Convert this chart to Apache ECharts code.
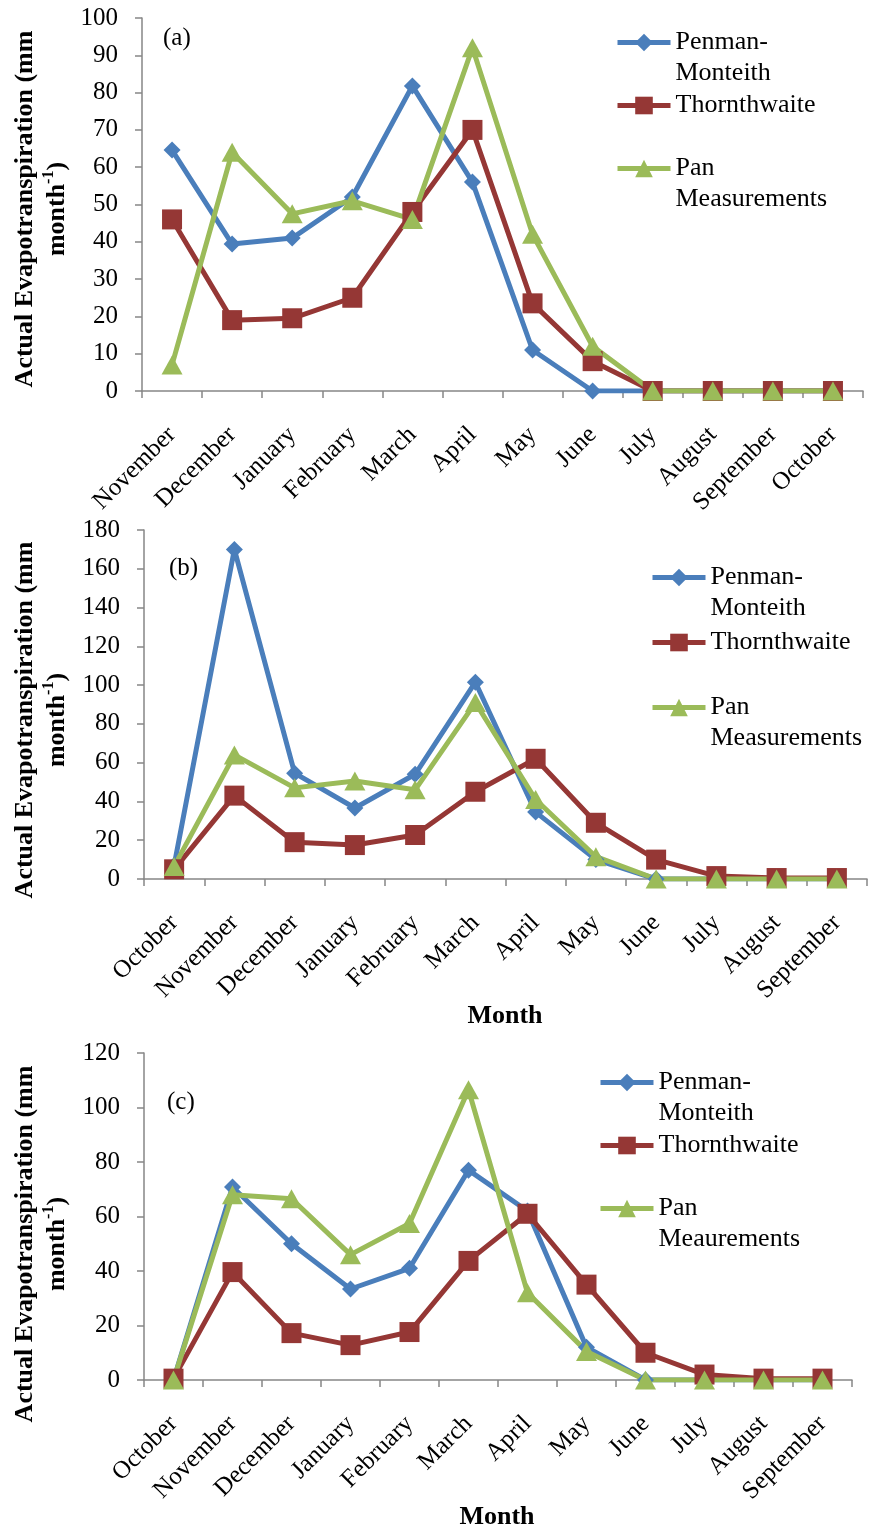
<!DOCTYPE html>
<html>
<head>
<meta charset="utf-8">
<script src="https://cdn.jsdelivr.net/npm/echarts@6/dist/echarts.min.js"></script>
<style>
  html, body { margin: 0; padding: 0; background: #fff; }
  #main { width: 870px; height: 1530px; }
</style>
</head>
<body>
<div id="main"></div>
<script>
// months, panel (a) starts in November, panels (b) and (c) in October
var monthsA = ['November', 'December', 'January', 'February', 'March', 'April', 'May', 'June', 'July', 'August', 'September', 'October'];
var monthsBC = ['October', 'November', 'December', 'January', 'February', 'March', 'April', 'May', 'June', 'July', 'August', 'September'];

// panel (a)
var pmA = [64.6, 39.4, 41, 52, 81.8, 56, 11, 0, 0, 0, 0, 0];
var thA = [46, 19, 19.5, 25, 48, 70, 23.5, 8, 0, 0, 0, 0];
var panA = [7, 64, 47.5, 51, 46, 92, 42, 12, 0, 0, 0, 0];

// panel (b)
var pmB = [7, 170, 54.6, 36.6, 54, 101.5, 34.5, 10, 0, 0, 0, 0];
var thB = [5, 43, 19, 17.5, 22.7, 45, 62, 29, 10, 1.5, 0.5, 0.5];
var panB = [6.5, 64, 47, 50.5, 46, 91, 41, 11.5, 0, 0, 0, 0];

// panel (c)
var pmC = [0, 70.8, 50, 33.4, 41, 77, 62, 12, 0, 0, 0, 0];
var thC = [0.5, 39.6, 17.2, 12.8, 17.6, 43.7, 61, 35, 10, 2, 0.5, 0.5];
var panC = [0, 68, 66.5, 46, 57.4, 106.5, 32, 10.5, 0, 0, 0, 0];

// y axis maxima and steps
var yMax = [100, 180, 120];
var yStep = [10, 20, 20];

var FONT = 'Liberation Serif';
var BLUE = '#4A7EBB', RED = '#953735', GREEN = '#9BBB59';
var diamond = 'path://M0,-1L1,0L0,1L-1,0Z';

var grids = [
  {left: 142, top: 18, width: 721, height: 373},
  {left: 144, top: 530, width: 723, height: 349},
  {left: 144, top: 1053, width: 708, height: 327}
];

var xAxes = [monthsA, monthsBC, monthsBC].map(function (cats, i) {
  return {
    type: 'category', gridIndex: i, data: cats, boundaryGap: true,
    axisLine: {lineStyle: {color: '#868686', width: 1.5}},
    axisTick: {show: true, length: 7, lineStyle: {color: '#868686', width: 1.5}},
    axisLabel: {rotate: 45, interval: 0, margin: 40, color: '#000', fontFamily: FONT, fontSize: 25}
  };
});

var yAxes = [0, 1, 2].map(function (i) {
  return {
    type: 'value', gridIndex: i, min: 0, max: yMax[i], interval: yStep[i],
    axisLine: {show: true, lineStyle: {color: '#868686', width: 1.5}},
    axisTick: {show: true, length: 7, lineStyle: {color: '#868686', width: 1.5}},
    splitLine: {show: false},
    axisLabel: {margin: 24, color: '#000', fontFamily: FONT, fontSize: 25}
  };
});

function line(name, data, i, color, symbol, size) {
  return {
    name: name, type: 'line', xAxisIndex: i, yAxisIndex: i, data: data,
    symbol: symbol, symbolSize: size, showSymbol: true,
    lineStyle: {color: color, width: 5},
    itemStyle: {color: color},
    emphasis: {disabled: true},
    animation: false
  };
}

var series = [
  line('Penman-Monteith', pmA, 0, BLUE, diamond, 17),
  line('Thornthwaite', thA, 0, RED, 'rect', 20),
  line('Pan Measurements', panA, 0, GREEN, 'triangle', [21, 19]),
  line('Penman-Monteith', pmB, 1, BLUE, diamond, 17),
  line('Thornthwaite', thB, 1, RED, 'rect', 20),
  line('Pan Measurements', panB, 1, GREEN, 'triangle', [21, 19]),
  line('Penman-Monteith', pmC, 2, BLUE, diamond, 17),
  line('Thornthwaite', thC, 2, RED, 'rect', 20),
  line('Pan Meaurements', panC, 2, GREEN, 'triangle', [21, 19])
];

// two-line legend entries get a blank line on top so the marker sits on the first line
function legend(left, top, gap, panName) {
  return {
    orient: 'vertical', left: left, top: top, itemGap: gap, padding: 0,
    itemWidth: 53, itemHeight: 22, selectedMode: false,
    lineStyle: {width: 5},
    textStyle: {fontFamily: FONT, fontSize: 26, color: '#000', lineHeight: 31},
    data: ['Penman-Monteith', 'Thornthwaite', panName],
    formatter: function (name) {
      if (name === 'Penman-Monteith') return '\u00a0\nPenman-\nMonteith';
      if (name === 'Thornthwaite') return name;
      return '\u00a0\n' + name.replace(' ', '\n');
    }
  };
}

function yTitle(cy) {
  return {
    type: 'text', x: 41, y: cy, rotation: Math.PI / 2,
    style: {
      text: 'Actual Evapotranspiration (mm\nmonth{sup|-1})',
      fontFamily: FONT, fontSize: 26, fontWeight: 'bold', fill: '#000',
      lineHeight: 32, align: 'center', verticalAlign: 'middle',
      rich: {sup: {fontFamily: FONT, fontSize: 16, fontWeight: 'bold', verticalAlign: 'top', lineHeight: 32}}
    }
  };
}

function tag(text, x, y) {
  return {type: 'text', x: x, y: y, style: {text: text, fontFamily: FONT, fontSize: 25, fill: '#000', verticalAlign: 'middle'}};
}

function monthName(x, y) {
  return {type: 'text', x: x, y: y, style: {text: 'Month', fontFamily: FONT, fontSize: 26, fontWeight: 'bold', fill: '#000', align: 'center', verticalAlign: 'middle'}};
}

var chart = echarts.init(document.getElementById('main'), null, {renderer: 'canvas'});
chart.setOption({
  backgroundColor: '#fff',
  animation: false,
  grid: grids,
  xAxis: xAxes,
  yAxis: yAxes,
  series: series,
  legend: [
    legend(615, -4, 1, 'Pan Measurements'),
    legend(650, 531, 3, 'Pan Measurements'),
    legend(598, 1036, 1, 'Pan Meaurements')
  ],
  graphic: [
    yTitle(209), yTitle(720), yTitle(1244),
    tag('(a)', 163, 38), tag('(b)', 169, 568), tag('(c)', 167, 1102),
    monthName(505, 1016), monthName(497, 1517)
  ]
});
</script>
</body>
</html>
